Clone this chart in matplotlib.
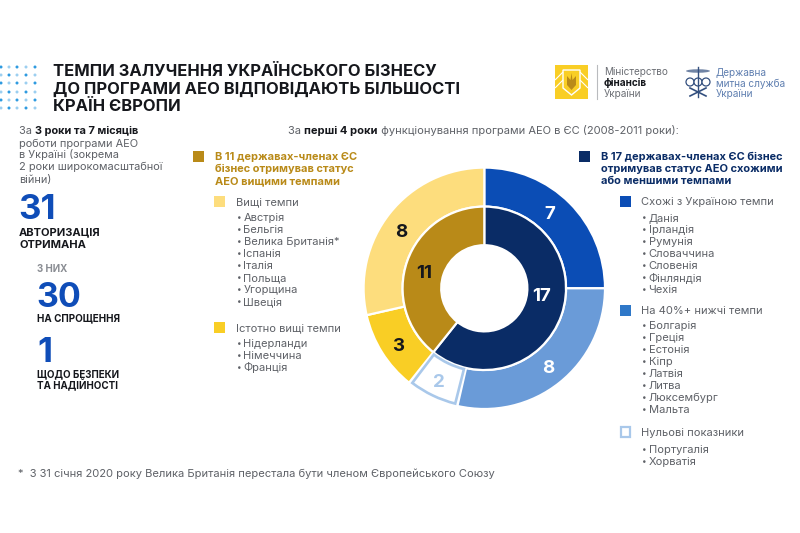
import matplotlib
matplotlib.use("Agg")
import matplotlib.pyplot as plt
from matplotlib.patches import Rectangle, Polygon, Circle, Ellipse, Wedge

plt.rcParams['font.family'] = ['Inter', 'DejaVu Sans']

W, H = 800, 533

outer_values = [7, 8, 2, 3, 8]
outer_colors = ['#0B4DB5', '#6A9BD8', '#FFFFFF', '#F9CE25', '#FDDD7D']
inner_values = [17, 11]
inner_colors = ['#0A2C66', '#B98A18']

title_lines = ["ТЕМПИ ЗАЛУЧЕННЯ УКРАЇНСЬКОГО БІЗНЕСУ",
               "ДО ПРОГРАМИ АЕО ВІДПОВІДАЮТЬ БІЛЬШОСТІ",
               "КРАЇН ЄВРОПИ"]
higher = ["Австрія", "Бельгія", "Велика Британія*", "Іспанія", "Італія", "Польща", "Угорщина", "Швеція"]
much_higher = ["Нідерланди", "Німеччина", "Франція"]
similar = ["Данія", "Ірландія", "Румунія", "Словаччина", "Словенія", "Фінляндія", "Чехія"]
lower = ["Болгарія", "Греція", "Естонія", "Кіпр", "Латвія", "Литва", "Люксембург", "Мальта"]
zero = ["Португалія", "Хорватія"]

GREY = '#5E6167'
BLACK = '#15171C'
BLUE = '#0F4DB8'
GOLD = '#B98A18'
NAVY = '#0A2C66'

fig = plt.figure(figsize=(W / 100, H / 100), dpi=100, facecolor='white')

bg = fig.add_axes([0, 0, 1, 1])
bg.set_xlim(0, W)
bg.set_ylim(H, 0)
bg.axis('off')


def T(x, y, s, size=8, color=GREY, weight='normal', ha='left', **kw):
    return bg.text(x, y + size * 0.12, s, fontsize=size, color=color, fontweight=weight,
                   ha=ha, va='center', **kw)


def rich(x, y, parts, size=8):
    """Lay out runs of differing weight on one line, measuring each run."""
    r = fig.canvas.get_renderer()
    for s, color, weight in parts:
        T(x, y, s, size=size, color=color, weight=weight)
        probe = T(x, y, "|" + s + "|", size=size, weight=weight)
        bar = T(x, y, "||", size=size, weight=weight)
        adv = probe.get_window_extent(r).width - bar.get_window_extent(r).width
        probe.remove()
        bar.remove()
        x += adv
    return x


# dot pattern
for i, y in enumerate([67, 75, 83, 92, 100, 108]):
    for j, x in enumerate([1, 9, 17, 26, 35]):
        c = '#2F9BE0' if (i + j) % 2 == 0 else '#9CCFF0'
        bg.add_patch(Circle((x, y), 1.5, color=c, lw=0))

# title
for y, s in zip([70, 88, 105], title_lines):
    T(53, y, s, size=11.9, color=BLACK, weight='bold')

# left intro
rich(19, 130, [("За ", GREY, 'normal'), ("3 роки та 7 місяців", BLACK, 'bold')], size=7.9)
for y, s in zip([143, 154, 166, 179], ["роботи програми АЕО", "в Україні (зокрема",
                                       "2 роки широкомасштабної", "війни)"]):
    T(19, y, s, size=7.9)

T(18, 207, "31", size=25, color=BLUE, weight='bold')
T(19, 231, "АВТОРИЗАЦІЯ", size=8, color=BLACK, weight='bold')
T(19, 244, "ОТРИМАНА", size=8, color=BLACK, weight='bold')
T(37, 268, "З НИХ", size=7, color='#8A8D93', weight='bold')
T(36, 295, "30", size=24.5, color=BLUE, weight='bold')
T(37, 317, "НА СПРОЩЕННЯ", size=7.1, color=BLACK, weight='bold')
T(37, 350, "1", size=25, color=BLUE, weight='bold')
T(37, 373, "ЩОДО БЕЗПЕКИ", size=7.05, color=BLACK, weight='bold')
T(37, 384, "ТА НАДІЙНОСТІ", size=7.05, color=BLACK, weight='bold')

# top sentence
rich(288, 130, [("За ", GREY, 'normal'), ("перші 4 роки", BLACK, 'bold'),
                (" функціонування програми АЕО в ЄС (2008-2011 роки):", GREY, 'normal')], size=8.0)

# left legend header
bg.add_patch(Rectangle((193, 151), 11, 11, color=GOLD, lw=0))
for y, s in zip([156, 168, 180], ["В 11 державах-членах ЄС", "бізнес отримував статус", "АЕО вищими темпами"]):
    T(215, y, s, size=7.95, color=GOLD, weight='bold')

# right legend header
bg.add_patch(Rectangle((579, 151), 11, 11, color=NAVY, lw=0))
for y, s in zip([156, 168, 180], ["В 17 державах-членах ЄС бізнес", "отримував статус АЕО схожими", "або меншими темпами"]):
    T(601, y, s, size=7.95, color=NAVY, weight='bold')


def legend_group(x_sw, x_txt, x_item, y_head, color, label, items, y_first, step=12, edge=None):
    if edge:
        bg.add_patch(Rectangle((x_sw + 0.8, y_head - 4.7), 9.4, 9.4, fc='white', ec=edge, lw=1.6))
    else:
        bg.add_patch(Rectangle((x_sw, y_head - 5.5), 11, 11, color=color, lw=0))
    T(x_txt, y_head, label, size=8.0)
    for k, s in enumerate(items):
        T(x_item, y_first + k * step, "•", size=6)
        T(x_item + 6.5, y_first + k * step, s, size=8.0)


legend_group(214, 236, 237, 201, '#FDDD7D', "Вищі темпи", higher, 217)
legend_group(214, 236, 237, 327, '#F9CE25', "Істотно вищі темпи", much_higher, 343)
legend_group(620, 641, 642, 201, '#0B4DB5', "Схожі з Україною темпи", similar, 217)
legend_group(620, 641, 642, 310, '#2F78C8', "На 40%+ нижчі темпи", lower, 325)
legend_group(620, 641, 642, 432, None, "Нульові показники", zero, 449, edge='#A9C8EA')

# footnote
T(18, 473, "*  З 31 січня 2020 року Велика Британія перестала бути членом Європейського Союзу", size=8.0)

# Ministry logo
bg.add_patch(Rectangle((555, 65), 33, 34, color='#F9CE25', lw=0))
for x0, x1, y0, y1 in [(555, 563, 80, 72), (555, 563, 88, 80), (580, 588, 72, 80), (580, 588, 80, 88)]:
    bg.plot([x0, x1], [y0, y1], color='white', lw=0.8, solid_capstyle='butt')
bg.add_patch(Polygon([(563, 70), (580, 70), (580, 88), (571.5, 95), (563, 88)],
                     fc='#F9CE25', ec='white', lw=1))
bg.add_patch(Polygon([(571.5, 73), (572.5, 80), (576, 76), (576, 85), (571.5, 90),
                      (567, 85), (567, 76), (570.5, 80)], fc='#B98A18', ec='none'))
bg.plot([597, 597], [65, 99], color='#B9BBBE', lw=0.8)
T(604, 71, "Міністерство", size=7.2, color='#6C6F75')
T(604, 82.5, "фінансів", size=7.2, color=BLACK, weight='bold')
T(604, 93, "України", size=7.2, color='#6C6F75')

# Customs logo
LOGO = '#34507F'
bg.plot([698, 698], [67, 97], color=LOGO, lw=1)
bg.add_patch(Ellipse((698, 71), 24, 3.5, fc=LOGO, ec='none', alpha=0.7))
for cx0 in (690, 698, 706):
    bg.add_patch(Circle((cx0, 82), 4, fc='white', ec=LOGO, lw=0.9))
bg.plot([690, 706], [96, 88], color=LOGO, lw=1.2)
bg.plot([690, 706], [88, 96], color=LOGO, lw=1.2)
T(716, 72, "Державна", size=7.2, color='#5F7FB0')
T(716, 83, "митна служба", size=7.2, color='#5F7FB0')
T(716, 93, "України", size=7.2, color='#5F7FB0')

# donut
cx, cy, R = 484.3, 288.3, 120.7
ax = fig.add_axes([(cx - R) / W, (H - cy - R) / H, 2 * R / W, 2 * R / H])
wo, _ = ax.pie(outer_values, colors=outer_colors, radius=1.0, startangle=90, counterclock=False,
               wedgeprops=dict(width=0.323, edgecolor='white', linewidth=1.6))
wi, _ = ax.pie(inner_values, colors=inner_colors, radius=0.677, startangle=90, counterclock=False,
               wedgeprops=dict(width=0.32, edgecolor='white', linewidth=1.6))
ax.set_xlim(-1, 1)
ax.set_ylim(-1, 1)
ax.set_aspect('equal')
ax.axis('off')
for w in wo + wi:
    w.set_clip_on(False)
# the empty slice: white fill, light blue outline, inset from its neighbours
hollow = wo[2]
hollow.set_visible(False)
ax.add_patch(Wedge((0, 0), 0.985, hollow.theta1 + 1.3, hollow.theta2 - 1.3, width=0.295,
                   fc='white', ec='#A9C8EA', lw=1.9, clip_on=False, zorder=3))

label_pos = [(550, 213), (548, 367), (439, 381), (398, 345), (401, 231)]
label_col = ['white', 'white', '#A9C8EA', BLACK, BLACK]
for v, (x, y), c in zip(outer_values, label_pos, label_col):
    T(x, y, str(v), size=13.5, color=c, weight='bold', ha='center', zorder=5)
for v, (x, y), c in zip(inner_values, [(542, 295), (424, 272)], ['white', BLACK]):
    T(x, y, str(v), size=13.5, color=c, weight='bold', ha='center', zorder=5)
bg.set_zorder(2)
bg.patch.set_alpha(0)

fig.savefig("out.png", dpi=100, facecolor='white')
